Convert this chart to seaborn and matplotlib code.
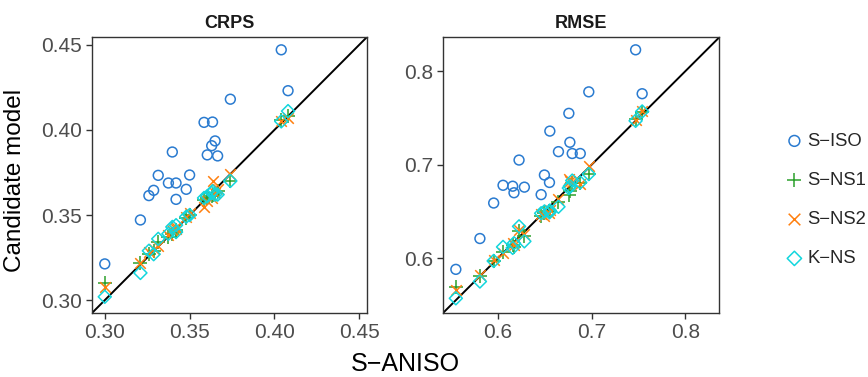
import numpy as np
import pandas as pd
import matplotlib
matplotlib.use("Agg")
import matplotlib.pyplot as plt
import seaborn as sns

sns.set_theme(style="white")
plt.rcParams['font.family'] = ['Liberation Sans', 'DejaVu Sans']

# ---------------- data ----------------
crps_aniso = [0.404, 0.408, 0.374, 0.3585, 0.3635, 0.365, 0.363, 0.3604, 0.3665, 0.3398,
              0.3315, 0.350, 0.3375, 0.342, 0.348, 0.3288, 0.326, 0.342, 0.321, 0.300]
crps_siso = [0.447, 0.423, 0.418, 0.4044, 0.4046, 0.3935, 0.3907, 0.3853, 0.3847, 0.387,
             0.3733, 0.3735, 0.3688, 0.3688, 0.3651, 0.3645, 0.3614, 0.3592, 0.3471, 0.3213]
crps_sns1 = [0.406, 0.408, 0.370, 0.359, 0.362, 0.363, 0.361, 0.360, 0.364, 0.339,
             0.334, 0.350, 0.337, 0.341, 0.348, 0.329, 0.327, 0.340, 0.322, 0.310]
crps_sns2 = [0.405, 0.407, 0.374, 0.355, 0.370, 0.363, 0.360, 0.358, 0.365, 0.341,
             0.332, 0.351, 0.338, 0.342, 0.349, 0.330, 0.328, 0.343, 0.322, 0.308]
crps_kns = [0.405, 0.411, 0.370, 0.360, 0.364, 0.362, 0.363, 0.361, 0.362, 0.343,
            0.336, 0.350, 0.339, 0.344, 0.349, 0.327, 0.329, 0.340, 0.316, 0.302]

rmse_aniso = [0.747, 0.754, 0.697, 0.6757, 0.6554, 0.6768, 0.6646, 0.6793, 0.6879, 0.6225,
              0.6496, 0.655, 0.6054, 0.6157, 0.6282, 0.6171, 0.6461, 0.5954, 0.5807, 0.555]
rmse_siso = [0.823, 0.776, 0.778, 0.755, 0.736, 0.724, 0.714, 0.712, 0.712, 0.705,
             0.689, 0.681, 0.678, 0.677, 0.676, 0.670, 0.668, 0.659, 0.621, 0.588]
rmse_sns1 = [0.749, 0.756, 0.690, 0.668, 0.650, 0.672, 0.660, 0.680, 0.680, 0.629,
             0.648, 0.650, 0.607, 0.614, 0.624, 0.612, 0.645, 0.597, 0.581, 0.569]
rmse_sns2 = [0.748, 0.757, 0.699, 0.685, 0.652, 0.683, 0.663, 0.682, 0.679, 0.630,
             0.645, 0.648, 0.606, 0.616, 0.626, 0.614, 0.647, 0.598, 0.582, 0.566]
rmse_kns = [0.747, 0.757, 0.690, 0.675, 0.651, 0.677, 0.655, 0.683, 0.681, 0.634,
            0.650, 0.649, 0.612, 0.611, 0.618, 0.616, 0.648, 0.597, 0.575, 0.557]

models = ["S\u2212ISO", "S\u2212NS1", "S\u2212NS2", "K\u2212NS"]
panels = ["CRPS", "RMSE"]
crps_ticks = [0.30, 0.35, 0.40, 0.45]
crps_ticklabels = ["0.30", "0.35", "0.40", "0.45"]
rmse_ticks = [0.6, 0.7, 0.8]
rmse_ticklabels = ["0.6", "0.7", "0.8"]

# ---------------- style ----------------
colors = {"S\u2212ISO": "#2a7bd0", "S\u2212NS1": "#2ca02c",
          "S\u2212NS2": "#ff7f0e", "K\u2212NS": "#12d6dd"}
marker_kw = {
    "S\u2212ISO": dict(marker="o", s=50, facecolor="none", linewidth=1.1),
    "S\u2212NS1": dict(marker="+", s=95, linewidth=1.1),
    "S\u2212NS2": dict(marker="x", s=58, linewidth=1.1),
    "K\u2212NS": dict(marker="D", s=44, facecolor="none", linewidth=1.1),
}

fig = plt.figure(figsize=(8.68, 3.77), dpi=100)
ax1 = fig.add_axes([92.3 / 868, 1 - 312.7 / 377, 274.4 / 868, 275.4 / 377])
ax2 = fig.add_axes([443.3 / 868, 1 - 312.7 / 377, 276.0 / 868, 275.4 / 377])

panel_data = [
    (ax1, "CRPS", crps_aniso, [crps_siso, crps_sns1, crps_sns2, crps_kns], crps_ticks, crps_ticklabels),
    (ax2, "RMSE", rmse_aniso, [rmse_siso, rmse_sns1, rmse_sns2, rmse_kns], rmse_ticks, rmse_ticklabels),
]

for ax, title, xs, ys_list, ticks, ticklabels in panel_data:
    allv = np.concatenate([xs] + ys_list)
    lo, hi = allv.min(), allv.max()
    pad = 0.05 * (hi - lo)
    lo, hi = lo - pad, hi + pad
    ax.plot([lo, hi], [lo, hi], color="black", linewidth=1.4, zorder=1)
    for name, ys in zip(models, ys_list):
        kw = dict(marker_kw[name])
        if kw.get("facecolor") == "none":
            kw["edgecolor"] = colors[name]
        else:
            kw["color"] = colors[name]
        sns.scatterplot(x=xs, y=ys, ax=ax, label=name, zorder=3, **kw)
    ax.set_xlim(lo, hi)
    ax.set_ylim(lo, hi)
    ax.set_xticks(ticks)
    ax.set_xticklabels(ticklabels)
    ax.set_yticks(ticks)
    ax.set_yticklabels(ticklabels)
    ax.tick_params(axis="both", which="both", length=4, width=1, color="#333333",
                   labelcolor="#4D4D4D", labelsize=15, bottom=True, left=True, pad=3.5)
    for sp in ax.spines.values():
        sp.set_color("#333333")
        sp.set_linewidth(1.0)
    ax.set_title(title, fontweight="bold", fontsize=13, pad=7, color="#1A1A1A")
    ax.set_xlabel("")
    ax.set_ylabel("")
    leg = ax.get_legend()
    if leg is not None:
        leg.remove()

handles, labels = ax1.get_legend_handles_labels()
fig.legend(handles, labels, loc="center left", bbox_to_anchor=(787 / 868, 1 - 200 / 377),
           frameon=False, fontsize=13.3, labelspacing=1.2, handletextpad=0.3,
           handlelength=0.8, borderaxespad=0, borderpad=0, markerscale=1.1)

fig.text((92.3 + 719.3) / 2 / 868, 1 - 364 / 377, "S\u2212ANISO", ha="center", va="center",
         fontsize=18, color="black")
fig.text(15 / 868, 1 - 180 / 377, "Candidate model", ha="center", va="center",
         rotation=90, fontsize=17.5, color="black")

fig.savefig("out.png", dpi=100)
